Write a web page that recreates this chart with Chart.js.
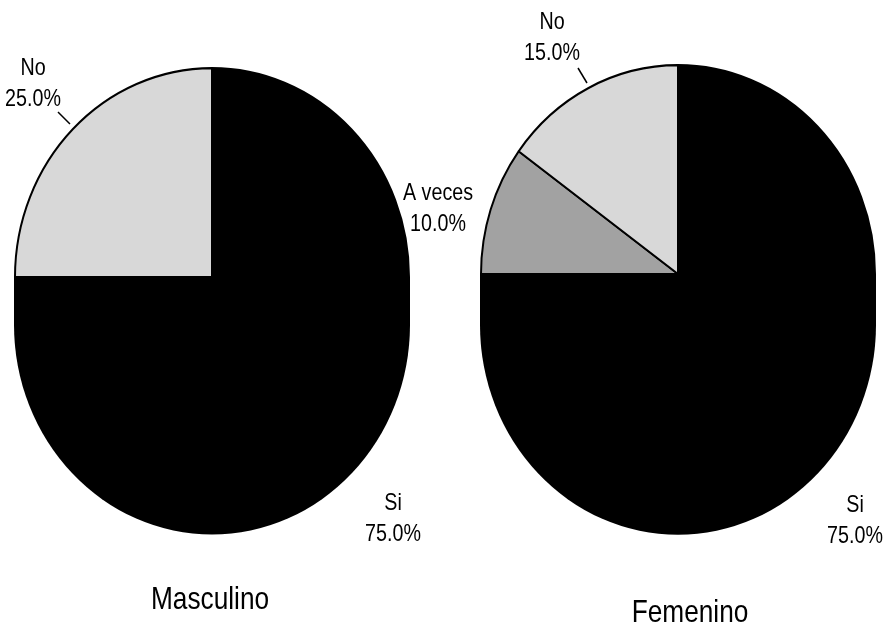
<!DOCTYPE html>
<html>
<head>
<meta charset="utf-8">
<script src="https://cdn.jsdelivr.net/npm/chart.js@4.4.0/dist/chart.umd.min.js"></script>
<style>
  html, body { margin: 0; padding: 0; background: #fff; }
  #wrap { position: relative; width: 884px; height: 643px; }
  #wrap canvas { position: absolute; top: 0; left: 0; }
</style>
</head>
<body>
<div id="wrap">
  <canvas id="chartMasc" width="884" height="643"></canvas>
  <canvas id="chartFem" width="884" height="643"></canvas>
</div>
<script>
const categories = ['Si', 'A veces', 'No'];
// slice sizes as they appear in the picture (Masculino shows no A veces wedge)
const mascValues = [75, 0, 25];
const femValues = [75, 10, 15];
// percentages as printed next to the slices
const mascPct = ['75.0%', '10.0%', '25.0%'];
const femPct = ['75.0%', '10.0%', '15.0%'];
const groupTitles = ['Masculino', 'Femenino'];

const sliceColors = ['#000000', '#a2a2a2', '#d8d8d8'];
const FONT = '"Liberation Sans", Arial, sans-serif';
const NARROW = 0.82; // squeeze text horizontally, like Arial Narrow

// tilted pie with a dark side wall, like the old 3D pie
const pie3d = {
    id: 'pie3d',
    beforeDatasetsDraw(chart, args, opts) {
        const arc = chart.getDatasetMeta(0).data[0];
        const x = arc.x, y = arc.y, r = arc.outerRadius;
        const ctx = chart.ctx;
        ctx.save();
        ctx.translate(x, y);
        ctx.scale(1, opts.squash);
        ctx.translate(-x, -y);
        const d = opts.depth;
        ctx.beginPath();
        ctx.moveTo(x - r - 1, y);
        ctx.lineTo(x - r - 1, y + d);
        ctx.arc(x, y + d, r + 1, Math.PI, 0, true);
        ctx.lineTo(x + r + 1, y);
        ctx.closePath();
        ctx.fillStyle = '#000';
        ctx.fill();
    },
    afterDatasetsDraw(chart) {
        chart.ctx.restore();
    }
};

function narrowText(ctx, text, x, y) {
    ctx.save();
    ctx.translate(x, y);
    ctx.scale(NARROW, 1);
    ctx.fillText(text, 0, 0);
    ctx.restore();
}

// slice labels, leader lines and the group name under each pie
const pieText = {
    id: 'pieText',
    afterDraw(chart, args, opts) {
        const arc = chart.getDatasetMeta(0).data[0];
        const cx = arc.x, cy = arc.y;
        const ctx = chart.ctx;
        ctx.save();
        ctx.fillStyle = '#000';
        ctx.strokeStyle = '#000';
        ctx.textAlign = 'center';
        ctx.textBaseline = 'middle';
        ctx.font = '24px ' + FONT;
        opts.items.forEach(it => {
            narrowText(ctx, chart.data.labels[it.index], cx + it.dx, cy + it.dy);
            narrowText(ctx, opts.pct[it.index], cx + it.dx, cy + it.dy + 31);
            if (it.leader) {
                ctx.lineWidth = 1.5;
                ctx.beginPath();
                ctx.moveTo(cx + it.leader[0], cy + it.leader[1]);
                ctx.lineTo(cx + it.leader[2], cy + it.leader[3]);
                ctx.stroke();
            }
        });
        ctx.font = '32px ' + FONT;
        narrowText(ctx, opts.title, cx + opts.titleDx, cy + opts.titleDy);
        ctx.restore();
    }
};

function makePie(id, values, pct, title, pad, textOpts, depth) {
    const ctx = document.getElementById(id).getContext('2d');
    return new Chart(ctx, {
        type: 'pie',
        data: {
            labels: categories,
            datasets: [{
                data: values,
                backgroundColor: sliceColors,
                borderColor: '#000',
                borderWidth: 2,
                clip: false
            }]
        },
        options: {
            responsive: false,
            animation: false,
            events: [],
            layout: { padding: pad },
            plugins: {
                legend: { display: false },
                tooltip: { enabled: false },
                pie3d: { squash: 1.06, depth: depth },
                pieText: Object.assign({ pct: pct, title: title }, textOpts)
            }
        },
        plugins: [pie3d, pieText]
    });
}

makePie('chartMasc', mascValues, mascPct, groupTitles[0],
    { left: 14, right: 474, top: 79, bottom: 168 },
    {
        items: [
            { index: 0, dx: 181, dy: 226 },
            { index: 1, dx: 226, dy: -84 },
            { index: 2, dx: -179, dy: -209, leader: [-154, -165, -142, -153] }
        ],
        titleDx: -2, titleDy: 323
    }, 45);

makePie('chartFem', femValues, femPct, groupTitles[1],
    { left: 480, right: 8, top: 76, bottom: 171 },
    {
        items: [
            { index: 0, dx: 177, dy: 231 },
            { index: 2, dx: -126, dy: -252, leader: [-100, -206, -91, -191] }
        ],
        titleDx: 12, titleDy: 339
    }, 48);
</script>
</body>
</html>
